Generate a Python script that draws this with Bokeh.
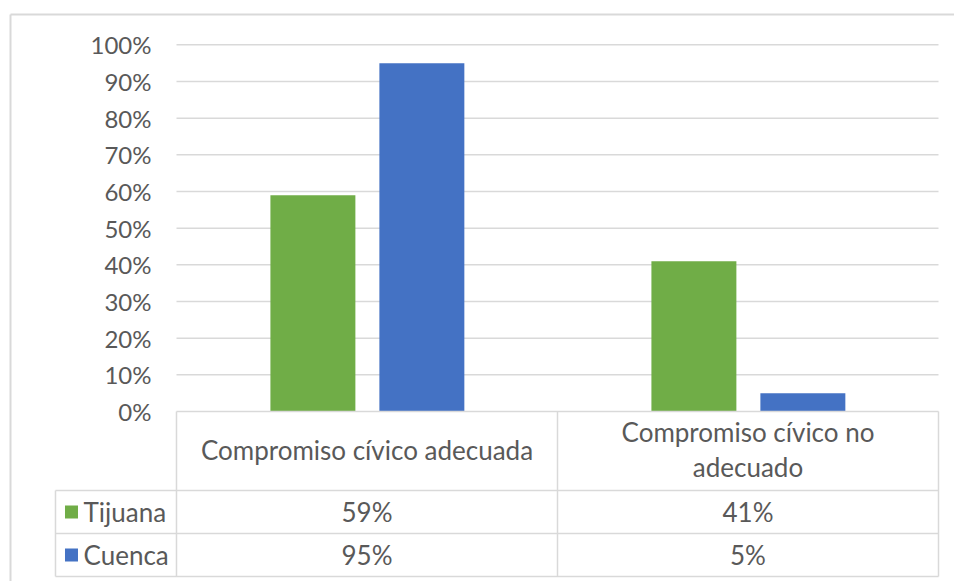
from bokeh.plotting import figure
from bokeh.models import Range1d, LinearAxis, FixedTicker, NumeralTickFormatter
from bokeh.core.properties import value
from bokeh.embed import file_html
from bokeh.resources import INLINE
import numpy as np

# ---- data ----
categories = ["Compromiso cívico adecuada", "Compromiso cívico no adecuado"]
category_labels = ["Compromiso cívico adecuada", "Compromiso cívico no\nadecuado"]
series = ["Tijuana", "Cuenca"]
tijuana = [0.59, 0.41]
cuenca = [0.95, 0.05]
tijuana_labels = ["59%", "41%"]
cuenca_labels = ["95%", "5%"]
y_ticks = [0.0, 0.1, 0.2, 0.3, 0.4, 0.5, 0.6, 0.7, 0.8, 0.9, 1.0]
colors = ["#70AD47", "#4472C4"]

# ---- style ----
FONT = "Lato"
FS = "26px"
FS_TICK = "24px"
TXT = "#595959"
GRID = "#D9D9D9"

p = figure(width=954, height=581, title=None, toolbar_location=None, output_backend="svg",
           x_axis_type=None, y_axis_type=None, min_border=0,
           x_range=Range1d(-0.46194, 2.04199), y_range=Range1d(-0.46359, 1.12081))
p.outline_line_color = None
p.background_fill_color = "white"
p.border_fill_color = "white"

n = len(categories)
centers = np.arange(n) + 0.5

# gridlines (0 line is the top of the table)
gy = [t for t in y_ticks if t > 0]
p.segment(x0=[0] * len(gy), x1=[n] * len(gy), y0=gy, y1=gy, line_color=GRID, line_width=1.5)

# bars
bw = 0.223
p.vbar(x=centers - 0.142, top=tijuana, width=bw, bottom=0, fill_color=colors[0], line_color=None)
p.vbar(x=centers + 0.144, top=cuenca, width=bw, bottom=0, fill_color=colors[1], line_color=None)

# y axis
ax = LinearAxis(fixed_location=0, bounds=(0, 1), ticker=FixedTicker(ticks=y_ticks),
                formatter=NumeralTickFormatter(format="0%"))
ax.axis_line_color = None
ax.major_tick_line_color = None
ax.minor_tick_line_color = None
ax.major_tick_out = 0
ax.major_tick_in = 0
ax.major_label_standoff = 25
ax.major_label_text_font = FONT
ax.major_label_text_font_size = FS_TICK
ax.major_label_text_color = TXT
p.add_layout(ax, "left")

# ---- data table ----
lab_left = -0.3176
r1, r2, r3 = -0.2154, -0.3327, -0.4500
p.segment(x0=[0, lab_left, lab_left, lab_left], x1=[n] * 4, y0=[0, r1, r2, r3], y1=[0, r1, r2, r3],
          line_color=GRID, line_width=1.5)
p.segment(x0=[0, 1, 2, lab_left], x1=[0, 1, 2, lab_left], y0=[0, 0, 0, r1], y1=[r3, r3, r3, r3],
          line_color=GRID, line_width=1.5)

# outer chart border
p.segment(x0=[-0.4357, -0.4357], x1=[2.05, -0.4357], y0=[1.0826, 1.0826], y1=[1.0826, -0.47],
          line_color=GRID, line_width=2)

# header texts
p.text(x=centers, y=[(0 + r1) / 2 + 0.004] * n, text=category_labels, text_align="center",
       text_baseline="middle", text_font=value(FONT), text_font_size=FS, text_color=TXT,
       text_line_height=1.12)

# value rows
row_y = [(r1 + r2) / 2, (r2 + r3) / 2]
p.text(x=centers, y=[row_y[0]] * n, text=tijuana_labels, text_align="center", text_baseline="middle",
       text_font=value(FONT), text_font_size=FS, text_color=TXT)
p.text(x=centers, y=[row_y[1]] * n, text=cuenca_labels, text_align="center", text_baseline="middle",
       text_font=value(FONT), text_font_size=FS, text_color=TXT)

# legend keys in the table
p.scatter(x=[-0.2756] * 2, y=row_y, marker="square", size=13, fill_color=colors, line_color=None)
p.text(x=[-0.2441] * 2, y=row_y, text=series, text_align="left", text_baseline="middle",
       text_font=value(FONT), text_font_size=FS, text_color=TXT)

open("out.html", "w").write(file_html(p, INLINE))
